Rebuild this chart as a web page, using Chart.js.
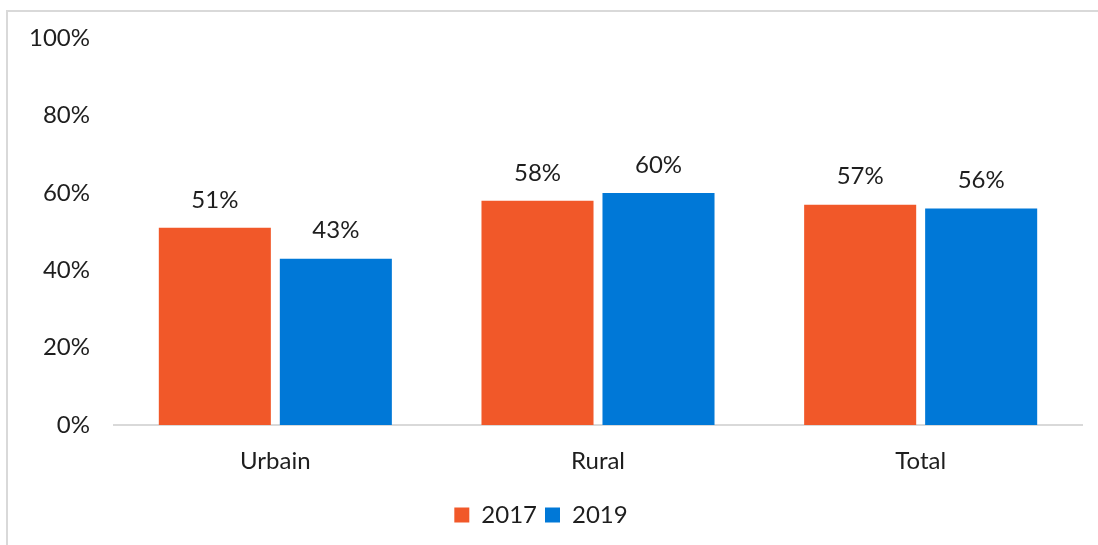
<!DOCTYPE html>
<html>
<head>
<meta charset="utf-8">
<script src="https://cdn.jsdelivr.net/npm/chart.js@4"></script>
<style>
  body { margin: 0; background: #fff; }
  #frame { position: absolute; left: 6px; top: 10px; width: 1100px; height: 545px; border: 2px solid #d9d9d9; box-sizing: border-box; }
  #wrap { position: absolute; left: 0; top: 0; width: 1098px; height: 545px; }
</style>
</head>
<body>
<div id="frame"></div>
<div id="wrap"><canvas id="bars"></canvas></div>
<script>
var categories = ['Urbain', 'Rural', 'Total'];
var values2017 = [51, 58, 57];
var values2019 = [43, 60, 56];
var yTicks = [0, 20, 40, 60, 80, 100];

var fontFamily = 'Lato, "DejaVu Sans", sans-serif';
var fontSize = 24;
var textColor = '#1e1e1e';

// draws the value above each bar
var barLabels = {
    id: 'barLabels',
    afterDatasetsDraw: function (chart) {
        var ctx = chart.ctx;
        ctx.save();
        ctx.font = fontSize + 'px ' + fontFamily;
        ctx.fillStyle = textColor;
        ctx.textAlign = 'center';
        ctx.textBaseline = 'middle';
        chart.data.datasets.forEach(function (ds, i) {
            chart.getDatasetMeta(i).data.forEach(function (bar, j) {
                ctx.fillText(ds.data[j] + '%', bar.x, bar.y - 28);
            });
        });
        ctx.restore();
    }
};

var ctx = document.getElementById('bars').getContext('2d');
var myChart = new Chart(ctx, {
    type: 'bar',
    data: {
        labels: categories,
        datasets: [{
            label: '2017',
            data: values2017,
            backgroundColor: 'rgb(241, 88, 41)',
            barPercentage: 0.926,
            categoryPercentage: 0.75
        }, {
            label: '2019',
            data: values2019,
            backgroundColor: 'rgb(0, 120, 215)',
            barPercentage: 0.926,
            categoryPercentage: 0.75
        }]
    },
    options: {
        responsive: true,
        maintainAspectRatio: false,
        animation: false,
        layout: { padding: { left: 0, right: 16, top: 30, bottom: 8 } },
        plugins: {
            tooltip: { enabled: false },
            legend: {
                position: 'bottom',
                labels: {
                    boxWidth: 15,
                    boxHeight: 15,
                    padding: 8,
                    color: textColor,
                    font: { family: fontFamily, size: fontSize }
                }
            }
        },
        scales: {
            x: {
                grid: { display: false, drawTicks: false },
                border: { color: '#d9d9d9', width: 2 },
                ticks: { color: textColor, padding: 22, font: { family: fontFamily, size: fontSize } },
                afterFit: function (scale) { scale.height = 70; }
            },
            y: {
                min: 0,
                max: 100,
                afterBuildTicks: function (scale) {
                    scale.ticks = yTicks.map(function (v) { return { value: v }; });
                },
                grid: { display: false, drawTicks: false },
                border: { display: false },
                ticks: {
                    color: textColor,
                    padding: 24,
                    font: { family: fontFamily, size: fontSize },
                    callback: function (v) { return v + '%'; }
                },
                afterFit: function (scale) { scale.width = 114; }
            }
        }
    },
    plugins: [barLabels]
});
</script>
</body>
</html>
